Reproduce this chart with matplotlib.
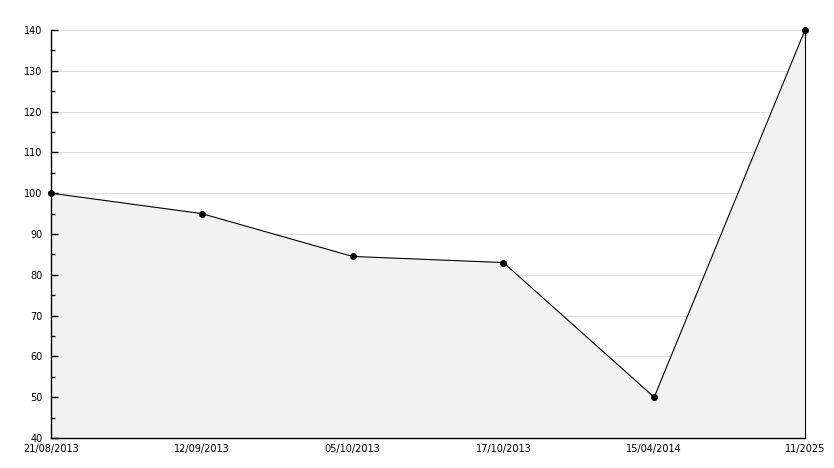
import numpy as np
import matplotlib.pyplot as plt

dates = ['21/08/2013', '12/09/2013', '05/10/2013', '17/10/2013', '15/04/2014', '11/2025']
values = [100, 95, 84.5, 83, 50, 140]

fig = plt.figure(figsize=(8.34, 4.68), dpi=100)
ax = fig.add_axes([51 / 834, 30 / 468, 754 / 834, 408 / 468])

x = np.arange(len(dates))
yticks = np.arange(40, 141, 10)

# grid under the filled area, ticks on top
for yv in yticks:
    ax.axhline(yv, color='#dddddd', linewidth=0.8, zorder=0.5)
ax.fill_between(x, values, 40, color='#f2f2f2', linewidth=0, zorder=1)
ax.plot(x, values, color='black', linewidth=0.8, marker='o', markersize=4,
        zorder=3, clip_on=False)

ax.set_xlim(0, len(dates) - 1)
ax.set_ylim(40, 140)
ax.set_yticks(yticks)
ax.set_yticks(np.arange(45, 140, 10), minor=True)

ax.set_xticks(x)
ax.set_xticklabels(dates)
ax.tick_params(axis='x', length=0, pad=4, labelsize=7)
ax.tick_params(axis='y', which='major', direction='in', length=5, width=1, pad=6, labelsize=7)
ax.tick_params(axis='y', which='minor', direction='in', length=3, width=1)

ax.spines['top'].set_visible(False)
for s in ['left', 'bottom']:
    ax.spines[s].set_linewidth(1)
ax.spines['right'].set_linewidth(0.8)

fig.savefig('out.png', dpi=100)
